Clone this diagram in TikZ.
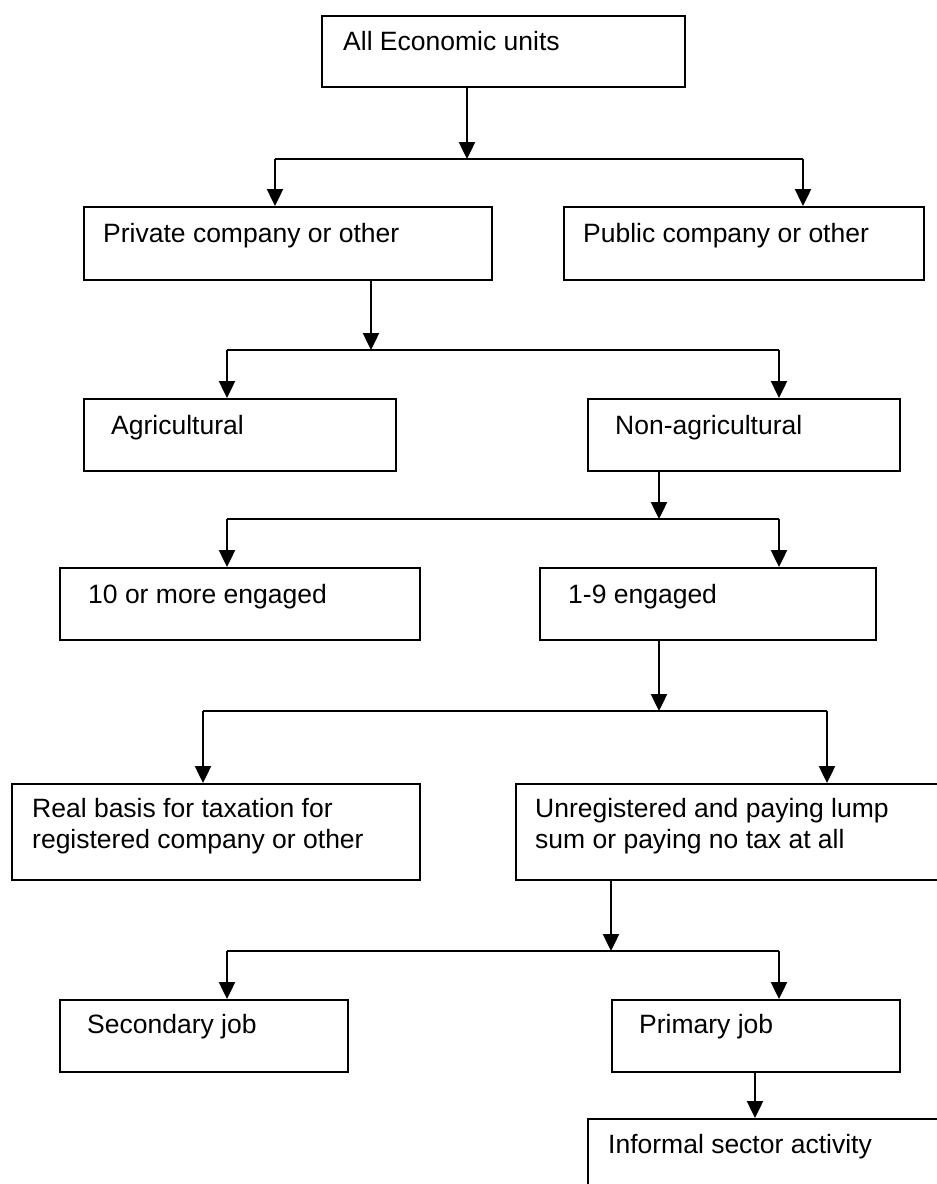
\documentclass[tikz,border=0pt]{standalone}
\usepackage{fontspec}
\setmainfont{Liberation Sans}
\usetikzlibrary{arrows.meta}
\begin{document}
\begin{tikzpicture}[x=1pt,y=-1pt,
  box/.style={draw, line width=2.4pt, inner sep=0pt, anchor=north west},
  lbl/.style={anchor=base west, inner sep=0pt, font=\fontsize{26.5}{31}\selectfont, align=left},
  conn/.style={line width=2.4pt},
  arr/.style={line width=2.4pt, -{Triangle[length=17pt,width=16pt]}}]
\clip (0,0) rectangle (937,1184);
% boxes
\node[box, minimum width=363pt, minimum height=71pt] (b1) at (321,15) {};
\node[box, minimum width=408pt, minimum height=73pt] (b2) at (83,206) {};
\node[box, minimum width=360pt, minimum height=73pt] (b3) at (563,206) {};
\node[box, minimum width=312pt, minimum height=72pt] (b4) at (83,398) {};
\node[box, minimum width=312pt, minimum height=72pt] (b5) at (587,398) {};
\node[box, minimum width=360pt, minimum height=72pt] (b6) at (59,567) {};
\node[box, minimum width=336pt, minimum height=72pt] (b7) at (539,567) {};
\node[box, minimum width=408pt, minimum height=96pt] (b8) at (11,783) {};
\node[box, minimum width=440pt, minimum height=96pt] (b9) at (515,783) {};
\node[box, minimum width=288pt, minimum height=72pt] (b10) at (59,999) {};
\node[box, minimum width=288pt, minimum height=72pt] (b11) at (611,999) {};
\node[box, minimum width=380pt, minimum height=100pt] (b12) at (587,1118) {};
% labels
\node[lbl] (t1) at (343,50) {All Economic units};
\node[lbl] (t2) at (103,242) {Private company or other};
\node[lbl] (t3) at (583,242) {Public company or other};
\node[lbl] (t4) at (111,434) {Agricultural};
\node[lbl] (t5) at (615,434) {Non-agricultural};
\node[lbl] (t6) at (88,603) {10 or more engaged};
\node[lbl] (t7) at (568,603) {1-9 engaged};
\node[lbl] (t8) at (32,848) {Real basis for taxation for\\registered company or other};
\node[lbl] (t9) at (535,848) {Unregistered and paying lump\\sum or paying no tax at all};
\node[lbl] (t10) at (87,1033) {Secondary job};
\node[lbl] (t11) at (639,1033) {Primary job};
\node[lbl] (t12) at (608,1153) {Informal sector activity};
% junction coordinates
\coordinate (j1) at (467,159);
\coordinate (j1L) at (275,159);
\coordinate (j1R) at (803,159);
\coordinate (j2) at (371,350);
\coordinate (j2L) at (227,350);
\coordinate (j2R) at (779,350);
\coordinate (j3) at (659,519);
\coordinate (j3L) at (227,519);
\coordinate (j3R) at (779,519);
\coordinate (j4) at (659,711);
\coordinate (j4L) at (203,711);
\coordinate (j4R) at (827,711);
\coordinate (j5) at (611,951);
\coordinate (j5L) at (227,951);
\coordinate (j5R) at (779,951);
\coordinate (j6) at (755,1071);
% connectors
\draw[arr] (j1 |- b1.south) -- (j1);
\draw[conn] (j1L) -- (j1R);
\draw[arr] (j1L) -- (j1L |- b2.north);
\draw[arr] (j1R) -- (j1R |- b3.north);
\draw[arr] (j2 |- b2.south) -- (j2);
\draw[conn] (j2L) -- (j2R);
\draw[arr] (j2L) -- (j2L |- b4.north);
\draw[arr] (j2R) -- (j2R |- b5.north);
\draw[arr] (j3 |- b5.south) -- (j3);
\draw[conn] (j3L) -- (j3R);
\draw[arr] (j3L) -- (j3L |- b6.north);
\draw[arr] (j3R) -- (j3R |- b7.north);
\draw[arr] (j4 |- b7.south) -- (j4);
\draw[conn] (j4L) -- (j4R);
\draw[arr] (j4L) -- (j4L |- b8.north);
\draw[arr] (j4R) -- (j4R |- b9.north);
\draw[arr] (j5 |- b9.south) -- (j5);
\draw[conn] (j5L) -- (j5R);
\draw[arr] (j5L) -- (j5L |- b10.north);
\draw[arr] (j5R) -- (j5R |- b11.north);
\draw[arr] (j6 |- b11.south) -- (j6 |- b12.north);
\end{tikzpicture}
\end{document}
